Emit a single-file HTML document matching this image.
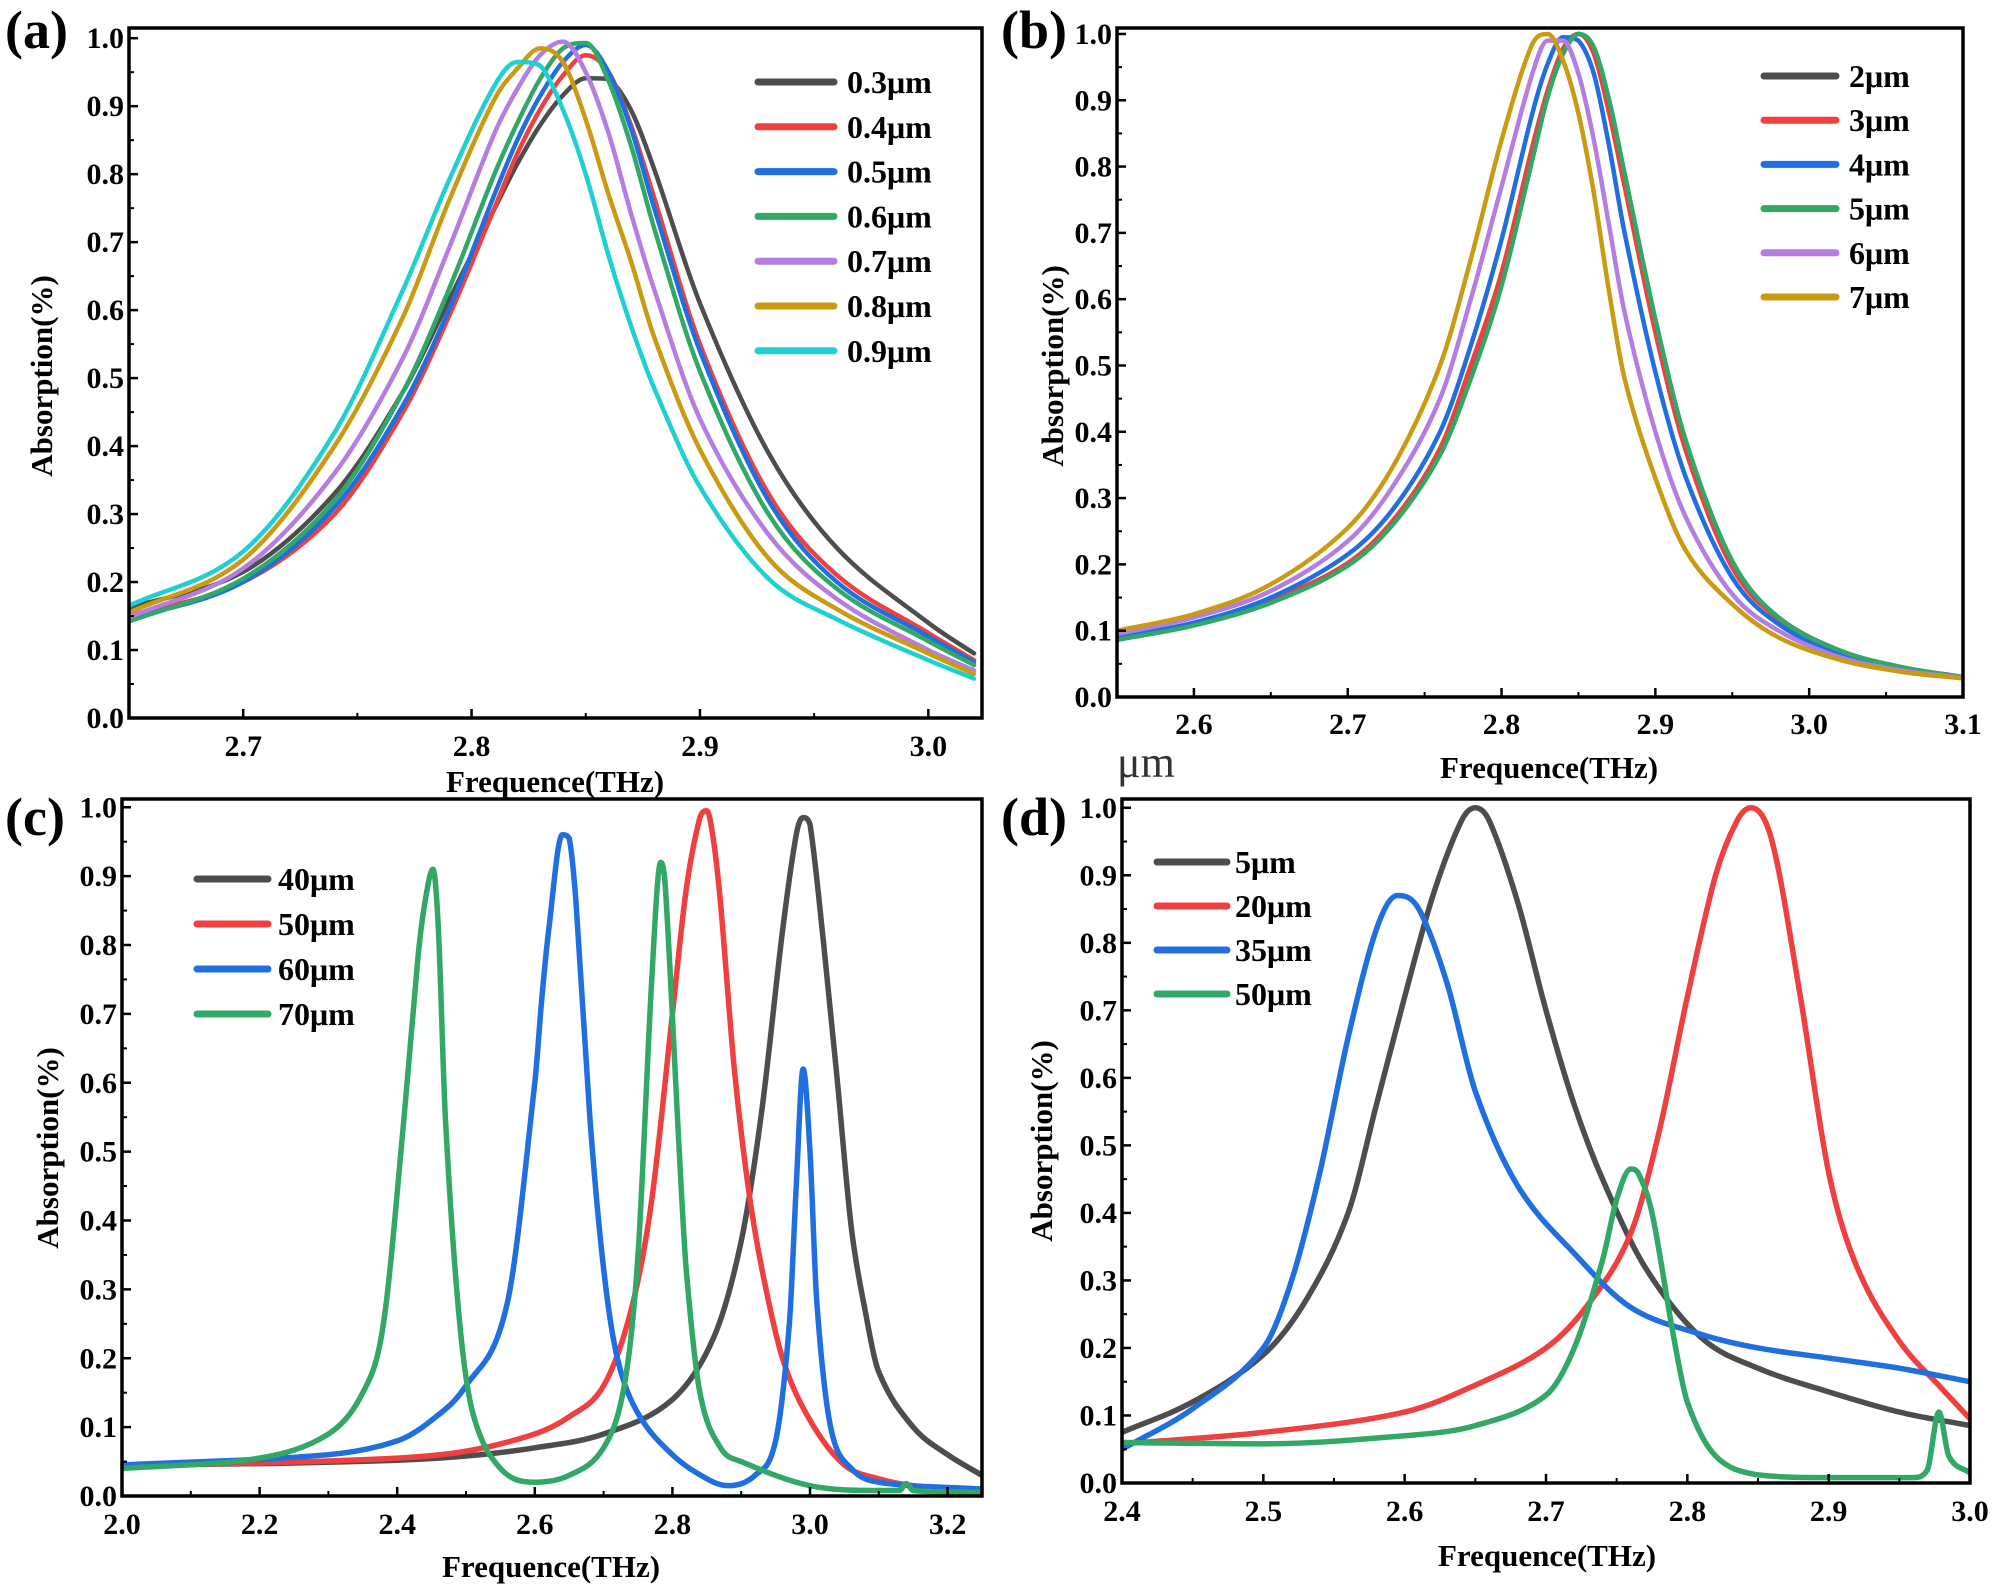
<!DOCTYPE html>
<html><head><meta charset="utf-8">
<style>
html,body{margin:0;padding:0;background:#fff;}
svg{display:block;font-family:"Liberation Serif",serif;}
.tk{font-weight:bold;font-size:30px;fill:#000;}
.tt{font-weight:bold;font-size:31px;fill:#000;}
.lg{font-weight:bold;font-size:32px;fill:#000;}
.pl{font-weight:bold;font-size:54px;fill:#000;}
</style></head>
<body>
<svg id="fig" width="1999" height="1591" viewBox="0 0 1999 1591">
<text x="1117" y="777" font-size="44" fill="#333" style="font-family:'Liberation Serif',serif">μm</text>
</svg>
<script>
// ---------- Panel (a) data ----------
const aX = [2.65,2.70,2.74,2.77,2.79,2.81,2.82,2.83,2.84,2.85,2.86,2.87,2.88,2.90,2.93,2.96,3.00,3.02];
const a03 = [.162,.215,.33,.48,.614,.749,.815,.872,.916,.941,.94,.893,.807,.61,.39,.25,.14,.095];
const a04 = [.15,.20,.30,.45,.59,.75,.83,.895,.945,.975,.95,.87,.765,.55,.33,.21,.125,.085];
const a05 = [.145,.20,.31,.46,.60,.77,.85,.915,.965,.99,.95,.865,.75,.54,.32,.20,.12,.082];
const a06 = [.142,.205,.32,.48,.63,.80,.875,.94,.985,.993,.937,.84,.72,.51,.30,.19,.113,.078];
const a07 = [.148,.22,.36,.53,.69,.86,.925,.975,.995,.95,.86,.74,.63,.44,.27,.175,.10,.07];
const a08 = [.155,.233,.40,.59,.76,.91,.955,.985,.965,.88,.77,.67,.56,.395,.235,.16,.095,.065];
const a09 = [.165,.245,.42,.63,.79,.93,.965,.96,.895,.80,.68,.575,.485,.34,.205,.145,.085,.058];
const aLabels = ["0.3μm","0.4μm","0.5μm","0.6μm","0.7μm","0.8μm","0.9μm"];
const aXTicks = [2.7,2.8,2.9,3.0];
const aXTickLabels = ["2.7","2.8","2.9","3.0"];

// ---------- Panel (b) data ----------
const bX = [2.55,2.60,2.65,2.70,2.73,2.76,2.78,2.80,2.82,2.83,2.84,2.85,2.86,2.87,2.88,2.90,2.92,2.95,2.98,3.02,3.06,3.10];
const b2 = [.088,.11,.145,.20,.265,.37,.49,.63,.82,.91,.975,1.0,.975,.89,.78,.56,.38,.20,.12,.07,.045,.03];
const b3 = [.088,.11,.146,.202,.268,.375,.50,.64,.83,.915,.978,1.0,.97,.88,.77,.55,.37,.195,.118,.069,.045,.03];
const b4 = [.09,.112,.15,.215,.285,.40,.53,.69,.88,.955,.995,.99,.94,.83,.70,.49,.33,.18,.11,.065,.042,.03];
const b5 = [.086,.108,.142,.198,.262,.365,.48,.62,.81,.905,.97,1.0,.98,.90,.79,.57,.385,.205,.12,.07,.045,.03];
const b6 = [.095,.12,.16,.235,.32,.45,.60,.77,.94,.99,.99,.94,.84,.71,.58,.40,.27,.155,.10,.06,.04,.029];
const b7 = [.10,.125,.17,.255,.35,.50,.66,.84,.985,1.0,.96,.88,.76,.61,.48,.33,.22,.14,.09,.056,.038,.028];
const bLabels = ["2μm","3μm","4μm","5μm","6μm","7μm"];
const bXTicks = [2.6,2.7,2.8,2.9,3.0,3.1];
const bXTickLabels = ["2.6","2.7","2.8","2.9","3.0","3.1"];

// ---------- Panel (c) data ----------
const c40X = [2.0,2.2,2.4,2.5,2.6,2.7,2.8,2.86,2.9,2.93,2.96,2.98,2.99,3.0,3.02,3.04,3.06,3.08,3.1,3.15,3.2,3.25];
const c40Y = [.045,.047,.052,.058,.07,.09,.14,.23,.37,.56,.82,.96,.985,.975,.80,.60,.39,.27,.18,.10,.06,.03];
const c50X = [2.0,2.2,2.4,2.5,2.6,2.65,2.7,2.74,2.77,2.8,2.82,2.84,2.85,2.86,2.87,2.89,2.91,2.93,2.96,3.0,3.05,3.1,3.15,3.25];
const c50Y = [.045,.048,.055,.065,.09,.115,.16,.27,.43,.70,.88,.985,.995,.95,.86,.62,.45,.33,.20,.11,.045,.025,.015,.008];
const c60X = [2.0,2.3,2.4,2.45,2.5,2.56,2.6,2.61,2.62,2.64,2.65,2.66,2.68,2.7,2.72,2.75,2.8,2.85,2.88,2.92,2.95,2.97,2.98,2.99,3.0,3.01,3.03,3.06,3.1,3.25];
const c60Y = [.045,.06,.08,.11,.16,.28,.60,.72,.82,.96,.955,.86,.55,.33,.20,.12,.06,.025,.015,.03,.08,.25,.45,.62,.50,.28,.10,.04,.02,.01];
const c70X = [2.0,2.2,2.3,2.35,2.38,2.41,2.43,2.44,2.452,2.46,2.47,2.49,2.51,2.55,2.6,2.65,2.7,2.73,2.75,2.77,2.783,2.79,2.81,2.82,2.84,2.87,2.9,3.0,3.1,3.13,3.14,3.15,3.25];
const c70Y = [.04,.055,.09,.15,.25,.55,.78,.86,.91,.82,.55,.26,.12,.04,.02,.03,.07,.16,.35,.75,.92,.88,.50,.33,.15,.07,.05,.015,.008,.008,.018,.008,.005];
const cLabels = ["40μm","50μm","60μm","70μm"];
const cXTicks = [2.0,2.2,2.4,2.6,2.8,3.0,3.2];
const cXTickLabels = ["2.0","2.2","2.4","2.6","2.8","3.0","3.2"];

// ---------- Panel (d) data ----------
const d5X = [2.4,2.45,2.5,2.53,2.56,2.58,2.6,2.62,2.64,2.65,2.66,2.68,2.70,2.72,2.74,2.77,2.81,2.85,2.9,2.95,3.0];
const d5Y = [.075,.12,.19,.27,.40,.56,.72,.87,.98,1.0,.98,.86,.70,.56,.45,.32,.215,.17,.135,.105,.085];
const d20X = [2.4,2.5,2.6,2.65,2.7,2.73,2.76,2.78,2.8,2.82,2.835,2.845,2.86,2.88,2.9,2.92,2.95,2.98,3.0];
const d20Y = [.058,.075,.105,.145,.2,.265,.37,.52,.72,.9,.98,1.0,.95,.72,.46,.32,.21,.14,.095];
const d35X = [2.4,2.45,2.5,2.52,2.54,2.56,2.58,2.595,2.61,2.63,2.65,2.68,2.72,2.76,2.81,2.85,2.9,2.95,3.0];
const d35Y = [.05,.11,.2,.30,.46,.66,.82,.87,.85,.74,.58,.44,.34,.26,.22,.2,.185,.17,.15];
const d50X = [2.4,2.5,2.6,2.65,2.7,2.72,2.74,2.75,2.76,2.765,2.775,2.79,2.8,2.82,2.85,2.9,2.96,2.97,2.978,2.985,3.0];
const d50Y = [.06,.058,.07,.085,.13,.2,.33,.42,.465,.46,.4,.22,.12,.04,.012,.008,.008,.02,.105,.04,.015];
const dLabels = ["5μm","20μm","35μm","50μm"];
const dXTicks = [2.4,2.5,2.6,2.7,2.8,2.9,3.0];
const dXTickLabels = ["2.4","2.5","2.6","2.7","2.8","2.9","3.0"];

const yTicks = [0,0.1,0.2,0.3,0.4,0.5,0.6,0.7,0.8,0.9,1.0];
const yTickLabels = ["0.0","0.1","0.2","0.3","0.4","0.5","0.6","0.7","0.8","0.9","1.0"];

const GREY="#4d4d4d",RED="#ef3f3f",BLUE="#1f6fe0",GREEN="#31a865",PURPLE="#b47de2",GOLD="#c99a12",CYAN="#1fd0d0";
const NS="http://www.w3.org/2000/svg";
const svg=document.getElementById('fig');

function mk(tag,attrs,parent){const e=document.createElementNS(NS,tag);for(const k in attrs)e.setAttribute(k,attrs[k]);(parent||svg).appendChild(e);return e;}

function smoothPath(px,py){
  const n=px.length;if(n<2)return "";
  let d="M"+px[0].toFixed(2)+","+py[0].toFixed(2);
  const k=0.5;
  for(let i=0;i<n-1;i++){
    const x0=i>0?px[i-1]:px[i],y0=i>0?py[i-1]:py[i];
    const x3=i<n-2?px[i+2]:px[i+1],y3=i<n-2?py[i+2]:py[i+1];
    const h=px[i+1]-px[i];
    let t1=(py[i+1]-y0)/((px[i+1]-x0)||1), t2=(y3-py[i])/((x3-px[i])||1);
    const sl=(py[i+1]-py[i])/h;
    if(i>0){const sp=(py[i]-py[i-1])/(px[i]-px[i-1]);if(sp*sl<=0)t1=0;}
    if(i<n-2){const sn=(py[i+2]-py[i+1])/(px[i+2]-px[i+1]);if(sn*sl<=0)t2=0;}
    if(Math.abs(t1)>3*Math.abs(sl))t1=3*sl;
    if(Math.abs(t2)>3*Math.abs(sl))t2=3*sl;
    d+=" C"+(px[i]+h/3).toFixed(2)+","+(py[i]+t1*h/3).toFixed(2)+" "+(px[i+1]-h/3).toFixed(2)+","+(py[i+1]-t2*h/3).toFixed(2)+" "+px[i+1].toFixed(2)+","+py[i+1].toFixed(2);
  }
  return d;
}

function panel(cfg){
  const g=mk('g',{});
  
  
  const {L,R,T,B,xmin,xmax,ymax}=cfg;
  const sx=v=>L+(v-xmin)/(xmax-xmin)*(R-L);
  const sy=v=>B-v/ymax*(B-T);
  const clipId='clip-'+cfg.id;
  const cp=mk('clipPath',{id:clipId},g);mk('rect',{x:L,y:T,width:R-L,height:B-T},cp);
  const lines=mk('g',{'clip-path':'url(#'+clipId+')'},g);
  
  
  cfg.series.forEach((s,i)=>{
    const p=mk('path',{d:smoothPath(s.x.map(sx),s.y.map(sy)),fill:'none',stroke:s.c,'stroke-width':cfg.sw,'stroke-linejoin':'round','stroke-linecap':'round'},lines);
    
    
  });
  const box=mk('rect',{x:L,y:T,width:R-L,height:B-T,fill:'none',stroke:'#000','stroke-width':3.5},g);
  
  
  yTicks.forEach((v,i)=>{
    const y=sy(v);
    mk('line',{x1:L,x2:L+9,y1:y,y2:y,stroke:'#000','stroke-width':2.5},g);
    if(i<yTicks.length-1){const ym=sy(v+0.05);mk('line',{x1:L,x2:L+5,y1:ym,y2:ym,stroke:'#000','stroke-width':2},g);}
    const t=mk('text',{x:L-5,y:y+10,'text-anchor':'end',class:'tk'},g);t.textContent=yTickLabels[i];
    
    
  });
  cfg.xt.forEach((v,i)=>{
    const x=sx(v);
    mk('line',{x1:x,x2:x,y1:B,y2:B-9,stroke:'#000','stroke-width':2.5},g);
    const t=mk('text',{x:x,y:B+cfg.xlOff,'text-anchor':'middle',class:'tk'},g);t.textContent=cfg.xtl[i];
    
    
  });
  for(let v=cfg.xt[0]-cfg.minor;v<=xmax+1e-9;v+=cfg.minor){
    if(v<xmin-1e-9)continue;
    if(cfg.xt.some(q=>Math.abs(q-v)<1e-6))continue;
    const x=sx(v);mk('line',{x1:x,x2:x,y1:B,y2:B-5,stroke:'#000','stroke-width':2},g);
  }
  const xt=mk('text',{x:cfg.xtX,y:cfg.xtY,'text-anchor':'middle',class:'tt'},g);xt.textContent='Frequence(THz)';
  
  
  const yt=mk('text',{x:0,y:0,'text-anchor':'middle',class:'tt',transform:'translate('+cfg.ytX+','+cfg.ytY+') rotate(-90)'},g);yt.textContent='Absorption(%)';
  
  
  const pl=mk('text',{x:cfg.plX,y:cfg.plY,class:'pl'},g);pl.textContent='('+cfg.id+')';
  
  
  const lg=mk('g',{},g);
  
  
  cfg.series.forEach((s,i)=>{
    const y=cfg.lgY[0]+i*cfg.lgDy;
    const e=mk('g',{},lg);
    
    
    mk('line',{x1:cfg.lgX1,x2:cfg.lgX2,y1:y,y2:y,stroke:s.c,'stroke-width':7,'stroke-linecap':'round'},e);
    const t=mk('text',{x:cfg.lgT,y:y+11,class:'lg'},e);t.textContent=s.n;
  });
}

panel({id:'a',L:129,R:982,T:28,B:718,xmin:2.65,xmax:3.0235,ymax:1.015,xt:aXTicks,xtl:aXTickLabels,minor:0.05,xlOff:38,sw:4.5,
  xtX:555,xtY:792,ytX:52,ytY:376,plX:5,plY:48,lgX1:758,lgX2:834,lgT:847,lgY:[82],lgDy:44.8,
  series:[{x:aX,y:a03,c:GREY,n:aLabels[0]},{x:aX,y:a04,c:RED,n:aLabels[1]},{x:aX,y:a05,c:BLUE,n:aLabels[2]},{x:aX,y:a06,c:GREEN,n:aLabels[3]},{x:aX,y:a07,c:PURPLE,n:aLabels[4]},{x:aX,y:a08,c:GOLD,n:aLabels[5]},{x:aX,y:a09,c:CYAN,n:aLabels[6]}]});

panel({id:'b',L:1117,R:1963,T:28,B:697,xmin:2.55,xmax:3.1,ymax:1.009,xt:bXTicks,xtl:bXTickLabels,minor:0.05,xlOff:37,sw:4.5,
  xtX:1549,xtY:778,ytX:1063,ytY:366,plX:1001,plY:48,lgX1:1764,lgX2:1836,lgT:1849,lgY:[76],lgDy:44.2,
  series:[{x:bX,y:b2,c:GREY,n:bLabels[0]},{x:bX,y:b3,c:RED,n:bLabels[1]},{x:bX,y:b4,c:BLUE,n:bLabels[2]},{x:bX,y:b5,c:GREEN,n:bLabels[3]},{x:bX,y:b6,c:PURPLE,n:bLabels[4]},{x:bX,y:b7,c:GOLD,n:bLabels[5]}]});

panel({id:'c',L:122,R:982,T:799,B:1496,xmin:2.0,xmax:3.25,ymax:1.012,xt:cXTicks,xtl:cXTickLabels,minor:0.1,xlOff:38,sw:5.5,
  xtX:551,xtY:1577,ytX:58,ytY:1148,plX:5,plY:835,lgX1:197,lgX2:268,lgT:278,lgY:[879],lgDy:45,
  series:[{x:c40X,y:c40Y,c:GREY,n:cLabels[0]},{x:c50X,y:c50Y,c:RED,n:cLabels[1]},{x:c60X,y:c60Y,c:BLUE,n:cLabels[2]},{x:c70X,y:c70Y,c:GREEN,n:cLabels[3]}]});

panel({id:'d',L:1122,R:1970,T:799,B:1483,xmin:2.4,xmax:3.0,ymax:1.013,xt:dXTicks,xtl:dXTickLabels,minor:0.05,xlOff:38,sw:5.5,
  xtX:1547,xtY:1566,ytX:1052,ytY:1141,plX:1001,plY:835,lgX1:1157,lgX2:1227,lgT:1235,lgY:[862],lgDy:44,
  series:[{x:d5X,y:d5Y,c:GREY,n:dLabels[0]},{x:d20X,y:d20Y,c:RED,n:dLabels[1]},{x:d35X,y:d35Y,c:BLUE,n:dLabels[2]},{x:d50X,y:d50Y,c:GREEN,n:dLabels[3]}]});
</script>
</body></html>
